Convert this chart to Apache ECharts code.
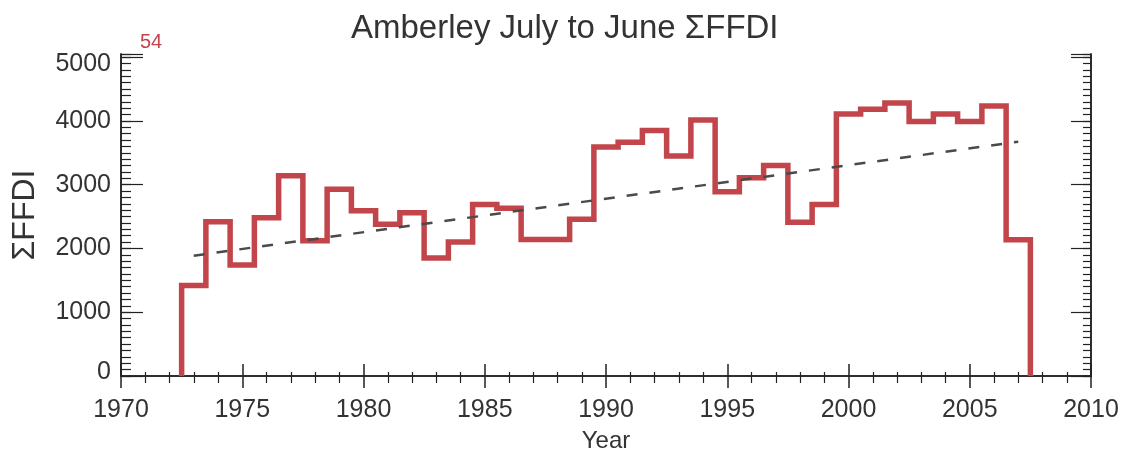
<!DOCTYPE html>
<html>
<head>
<meta charset="utf-8">
<script src="https://cdn.jsdelivr.net/npm/echarts@6/dist/echarts.min.js"></script>
<style>
html,body{margin:0;padding:0;background:#fff;}
#chart{width:1121px;height:450px;}
</style>
</head>
<body>
<div id="chart"></div>
<script>
// Data
const years = [1973,1974,1975,1976,1977,1978,1979,1980,1981,1982,1983,1984,1985,1986,1987,1988,1989,1990,
  1991,1992,1993,1994,1995,1996,1997,1998,1999,2000,2001,2002,2003,2004,2005,2006,2007];
const sumFFDI = [1420,2420,1740,2480,3140,2120,2930,2590,2380,2560,1850,2100,2690,2630,2140,2140,2460,3590,
  3665,3850,3450,4015,2890,3110,3300,2410,2690,4110,4185,4280,3990,4110,3990,4235,2135];
const trendYears = [1973, 2007];
const trendValues = [1887, 3675];
const xTicks = [1970, 1975, 1980, 1985, 1990, 1995, 2000, 2005, 2010];
const yTicks = [0, 1000, 2000, 3000, 4000, 5000];
const annotation = '54';

// Build histogram-style step outline (bins centred on each year)
const stepPts = [];
stepPts.push([years[0] - 0.5, 0]);
for (let i = 0; i < years.length; i++) {
  stepPts.push([years[i] - 0.5, sumFFDI[i]]);
  stepPts.push([years[i] + 0.5, sumFFDI[i]]);
}
stepPts.push([years[years.length - 1] + 0.5, 0]);

const trendPts = trendYears.map((y, i) => [y, trendValues[i]]);

const AX = '#222';
const TXT = '#333';
const RED = '#c1454a';
const FONT = "'Liberation Sans', Arial, sans-serif";

function xAx(pos, showLabel, majLen, minLen) {
  return {
    type: 'value', position: pos, min: xTicks[0], max: xTicks[xTicks.length - 1], interval: 5,
    axisLine: { show: true, lineStyle: { color: AX, width: 1.5 } },
    axisTick: { show: true, inside: true, length: majLen, lineStyle: { color: AX, width: 1.5 } },
    minorTick: { show: true, splitNumber: 5, length: minLen, lineStyle: { color: AX, width: 1.2 } },
    splitLine: { show: false },
    axisLabel: { show: showLabel, fontSize: 25, color: TXT, fontFamily: FONT, margin: 22,
      formatter: v => String(v) },
    name: showLabel ? 'Year' : '', nameLocation: 'middle', nameGap: 53,
    nameTextStyle: { fontSize: 24, color: TXT, fontFamily: FONT }
  };
}
const topVal = yTicks[yTicks.length - 1];
const botVal = yTicks[0];
function yLabel(v) {
  if (yTicks.indexOf(v) < 0) return '';
  if (v === topVal) return '{t|' + v + '}';
  if (v === botVal) return '{b|' + v + '}';
  return String(v);
}
function yAx(pos, interval, showLabel, len, name) {
  return {
    type: 'value', position: pos, min: yTicks[0], max: 5050, interval: interval,
    axisLine: { show: true, lineStyle: { color: AX, width: 1.5 } },
    axisTick: { show: true, inside: true, length: len, lineStyle: { color: AX, width: 1.2 } },
    splitLine: { show: false },
    axisLabel: { show: showLabel, fontSize: 25, color: TXT, fontFamily: FONT, margin: 10,
      formatter: yLabel,
      rich: {
        t: { fontSize: 25, color: TXT, fontFamily: FONT, padding: [13, 0, 0, 0] },
        b: { fontSize: 25, color: TXT, fontFamily: FONT, padding: [0, 0, 8, 0] }
      } },
    name: name || '', nameLocation: 'middle', nameGap: 80,
    nameTextStyle: { fontSize: 32, color: TXT, fontFamily: FONT }
  };
}

const chart = echarts.init(document.getElementById('chart'), null, { renderer: 'canvas' });
chart.setOption({
  animation: false,
  backgroundColor: '#fff',
  title: [
    { text: 'Amberley July to June ΣFFDI', left: 346, top: 7,
      textStyle: { fontSize: 33, fontWeight: 'normal', color: TXT, fontFamily: FONT } },
    { text: annotation, left: 135, top: 27,
      textStyle: { fontSize: 20, fontWeight: 'normal', color: RED, fontFamily: FONT } }
  ],
  grid: { left: 121, right: 30, top: 54, bottom: 74, containLabel: false, outerBoundsMode: 'none' },
  xAxis: [ xAx('bottom', true, 12, 4), xAx('top', false, 12, 7) ],
  yAxis: [
    yAx('left', 1000, true, 22, 'ΣFFDI'),
    yAx('left', 100, false, 10),
    yAx('right', 1000, false, 20),
    yAx('right', 100, false, 8)
  ],
  series: [
    { type: 'line', data: stepPts, xAxisIndex: 0, yAxisIndex: 0, showSymbol: false, symbol: 'none',
      lineStyle: { color: RED, width: 5.5, join: 'miter' }, z: 5 },
    { type: 'line', data: trendPts, xAxisIndex: 0, yAxisIndex: 0, showSymbol: false, symbol: 'none',
      lineStyle: { color: '#4a4a4a', width: 2.5, type: [11, 12] }, z: 6 }
  ]
});
</script>
</body>
</html>
